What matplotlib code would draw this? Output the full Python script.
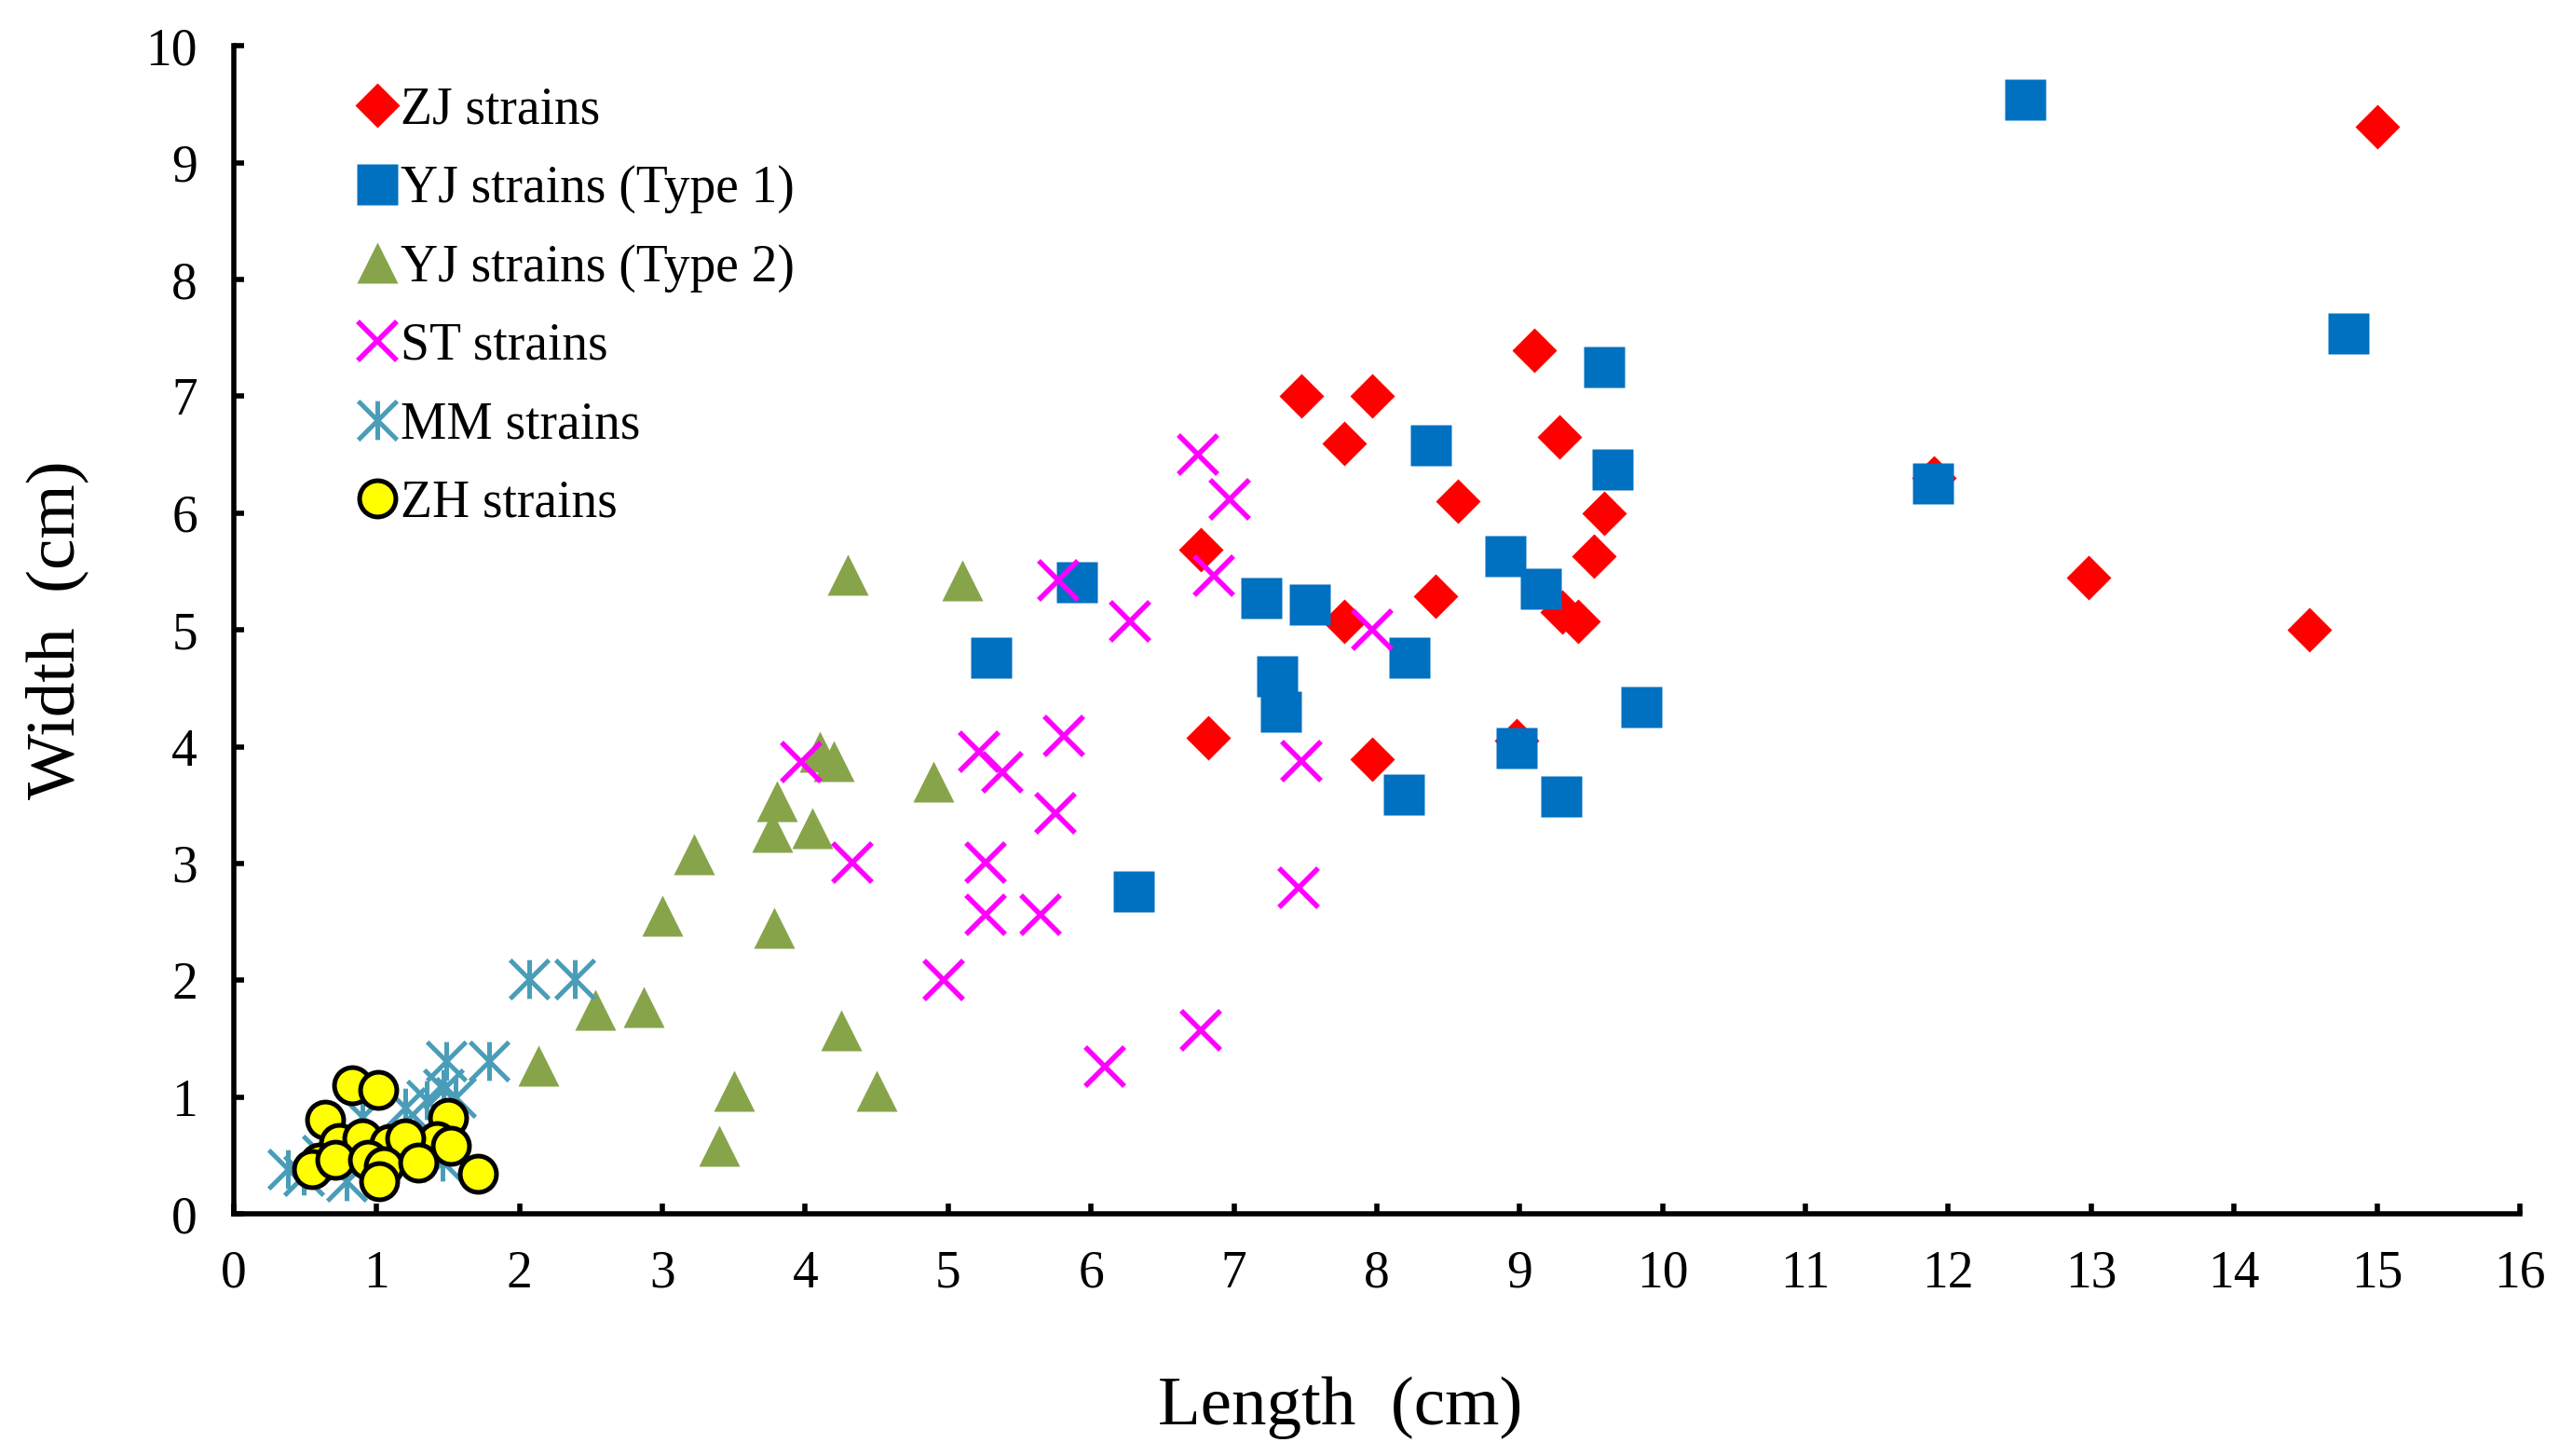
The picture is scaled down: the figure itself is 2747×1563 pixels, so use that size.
import numpy as np
import matplotlib
matplotlib.use("Agg")
import matplotlib.pyplot as plt
from matplotlib.path import Path

plt.rcParams['font.family'] = ['Liberation Serif', 'DejaVu Serif']

# ZJ strains (length, width)
zj_x = [15.0, 9.1, 7.47, 7.97, 7.77, 9.28, 8.57, 9.59, 6.77, 9.52, 12.98, 8.41,
        7.77, 9.3, 9.41, 14.53, 6.82, 7.97, 11.9, 8.98]
zj_y = [9.31, 7.39, 7.0, 7.0, 6.6, 6.65, 6.1, 6.0, 5.69, 5.63, 5.45, 5.29,
        5.07, 5.15, 5.07, 5.0, 4.08, 3.89, 6.3, 4.05]

# YJ strains (Type 1)
yj1_x = [12.54, 14.8, 9.59, 8.38, 9.65, 11.89, 8.9, 9.15, 5.9, 7.19, 7.53, 5.3,
         8.23, 7.3, 7.33, 9.85, 8.98, 8.19, 9.29, 6.3]
yj1_y = [9.54, 7.54, 7.25, 6.58, 6.37, 6.25, 5.63, 5.35, 5.41, 5.27, 5.22, 4.76,
         4.76, 4.6, 4.3, 4.34, 3.99, 3.59, 3.57, 2.76]

# YJ strains (Type 2)
yj2_x = [4.3, 5.1, 4.1, 4.2, 4.9, 3.8, 3.77, 4.05, 3.22, 3.0, 3.78, 2.53,
         2.87, 2.13, 4.25, 3.5, 4.5, 3.4]
yj2_y = [5.47, 5.42, 3.96, 3.88, 3.7, 3.53, 3.27, 3.3, 3.08, 2.55, 2.45, 1.75,
         1.77, 1.27, 1.57, 1.05, 1.05, 0.58]

# ST strains
st_x = [6.75, 6.97, 5.77, 6.86, 6.27, 7.97, 3.97, 5.22, 5.38, 5.81, 7.47, 5.75,
        4.33, 5.26, 5.26, 5.65, 7.45, 4.97, 6.77, 6.1]
st_y = [6.5, 6.12, 5.42, 5.46, 5.07, 5.0, 3.87, 3.96, 3.78, 4.09, 3.88, 3.43,
        3.01, 3.01, 2.56, 2.56, 2.79, 2.0, 1.57, 1.26]

# MM strains
mm_x = [2.07, 2.39, 1.49, 1.79, 1.47, 1.35, 1.2, 0.9, 0.38, 0.49, 0.79, 1.46,
        1.55, 0.62]
mm_y = [2.01, 2.01, 1.31, 1.31, 1.07, 0.97, 0.91, 0.83, 0.38, 0.33, 0.28, 0.45,
        1.0, 0.5]

# ZH strains
zh_x = [0.83, 1.01, 0.64, 1.5, 0.74, 1.42, 0.9, 1.09, 1.2, 1.52, 0.6, 0.55,
        0.71, 0.94, 1.05, 1.29, 1.02, 1.71]
zh_y = [1.1, 1.06, 0.81, 0.82, 0.61, 0.62, 0.65, 0.6, 0.65, 0.58, 0.44, 0.38,
        0.46, 0.46, 0.41, 0.44, 0.28, 0.34]

# asterisk marker like Excel's (x plus vertical bar)
asterisk = Path([(0, -1), (0, 1), (-1, -1), (1, 1), (-1, 1), (1, -1)],
                [Path.MOVETO, Path.LINETO, Path.MOVETO, Path.LINETO,
                 Path.MOVETO, Path.LINETO])

fig = plt.figure(figsize=(13.735, 7.815), dpi=200)
ax = fig.add_axes([0.0913, 0.1663, 0.8934, 0.8022])

ax.plot(zj_x, zj_y, 'D', ms=12, color='#FF0000', mec='none', label='ZJ strains')
ax.plot(yj1_x, yj1_y, 's', ms=16, color='#0070C0', mec='none', label='YJ strains (Type 1)')
ax.plot(yj2_x, yj2_y, '^', ms=16, color='#87A44B', mec='none', label='YJ strains (Type 2)')
ax.plot(st_x, st_y, 'x', ms=15, mew=2.0, color='#FF00FF', label='ST strains')
ax.plot(mm_x, mm_y, marker=asterisk, ls='none', ms=15, mew=1.8, color='#4A9DB8',
        mfc='none', label='MM strains')
ax.plot(zh_x, zh_y, 'o', ms=14, mfc='#FFFF00', mec='black', mew=1.8, label='ZH strains')

ax.set_xlim(0, 16)
ax.set_ylim(0, 10)
ax.set_xticks(range(0, 17))
ax.set_yticks(range(0, 11))

for s in ['top', 'right']:
    ax.spines[s].set_visible(False)
for s in ['left', 'bottom']:
    ax.spines[s].set_linewidth(2.0)
ax.tick_params(direction='in', length=4, width=2.0, labelsize=20, pad=14)

ax.set_xlabel('Length  (cm)', fontsize=27, labelpad=30)
ax.xaxis.label.set_x(0.484)
ax.set_ylabel('Width  (cm)', fontsize=27, labelpad=22)

ax.legend(loc='upper left', bbox_to_anchor=(0.047, 0.983), frameon=False, fontsize=20,
          handlelength=0.6, handletextpad=0.15, labelspacing=0.58, borderaxespad=0)

fig.savefig('out.png', dpi=200)
